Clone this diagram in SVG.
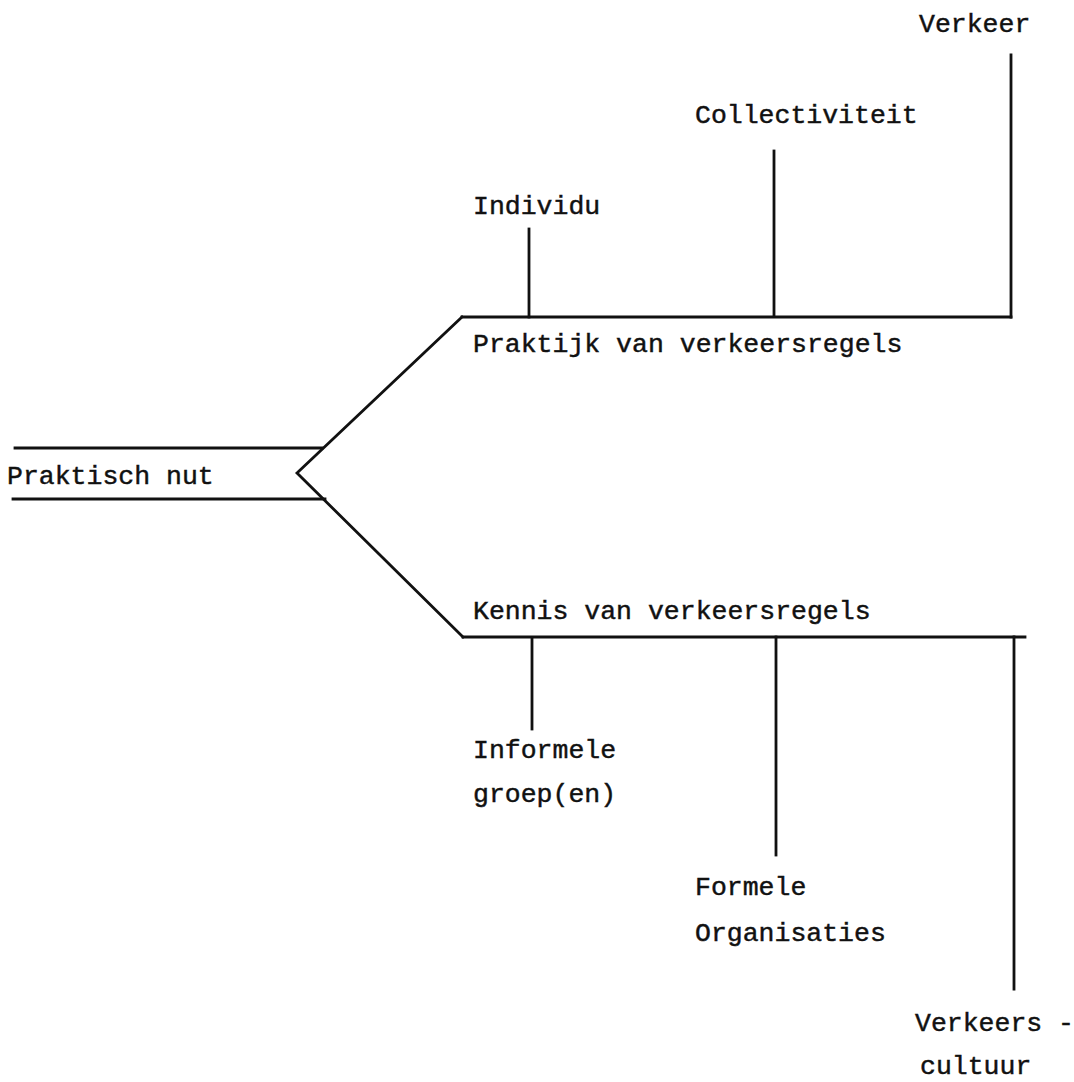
<svg xmlns="http://www.w3.org/2000/svg" width="1074" height="1082" viewBox="0 0 1074 1082">
<style>
.t{font-family:"Liberation Mono","DejaVu Sans Mono",monospace;font-size:26.5px;fill:#111;stroke:#111;stroke-width:0.45}
.c line,.c polyline{stroke:#111;stroke-width:2.8;fill:none;stroke-linecap:square;stroke-linejoin:miter}
</style>
<rect width="1074" height="1082" fill="#fff"/>
<g id="connectors" class="c">
<line x1="15" y1="448" x2="322" y2="448"/>
<line x1="13" y1="499" x2="325" y2="499"/>
<polyline points="462,317 297,473 463,637"/>
<line x1="462" y1="317" x2="1011" y2="317"/>
<line x1="463" y1="637" x2="1025" y2="637"/>
<line x1="1011" y1="55" x2="1011" y2="317"/>
<line x1="774" y1="151" x2="774" y2="315"/>
<line x1="529" y1="229" x2="529" y2="317"/>
<line x1="532" y1="639" x2="532" y2="729"/>
<line x1="776" y1="637" x2="776" y2="855"/>
<line x1="1014" y1="637" x2="1014" y2="989"/>
</g>
<g id="n-praktisch-nut"><text class="t" x="7" y="484">Praktisch nut</text></g>
<g id="n-praktijk"><text class="t" x="473" y="352">Praktijk van verkeersregels</text></g>
<g id="n-kennis"><text class="t" x="473" y="619">Kennis van verkeersregels</text></g>
<g id="n-individu"><text class="t" x="473" y="214">Individu</text></g>
<g id="n-collectiviteit"><text class="t" x="695" y="123">Collectiviteit</text></g>
<g id="n-verkeer"><text class="t" x="919" y="32">Verkeer</text></g>
<g id="n-informele"><text class="t" x="473" y="758">Informele</text><text class="t" x="473" y="802">groep(en)</text></g>
<g id="n-formele"><text class="t" x="695" y="895">Formele</text><text class="t" x="695" y="941">Organisaties</text></g>
<g id="n-verkeerscultuur"><text class="t" x="915" y="1031">Verkeers -</text><text class="t" x="920" y="1074">cultuur</text></g>
</svg>
